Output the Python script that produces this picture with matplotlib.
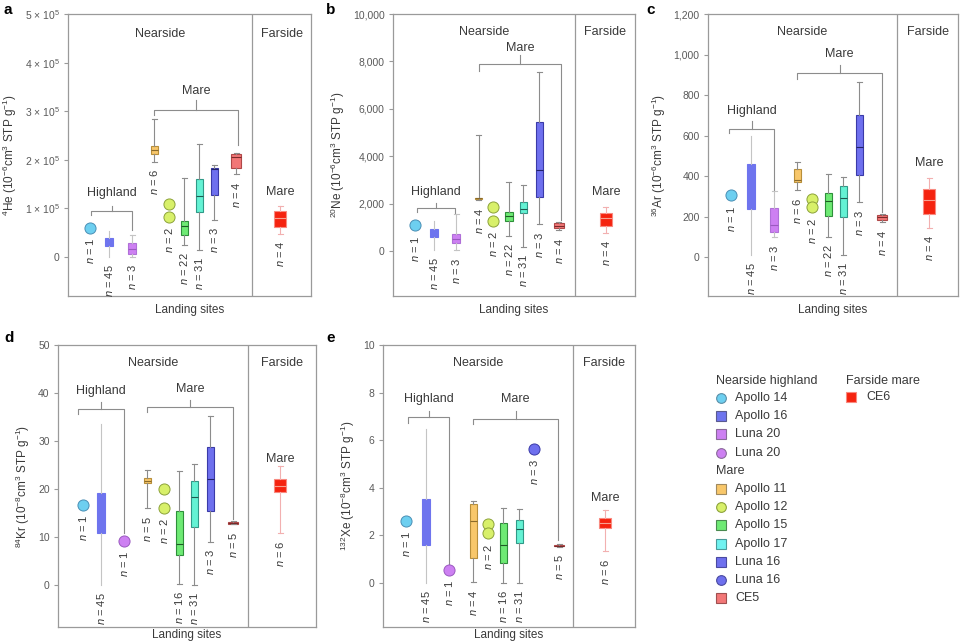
import matplotlib
matplotlib.use('Agg')
import matplotlib.pyplot as plt

plt.rcParams['font.family'] = ['Liberation Sans', 'DejaVu Sans']
plt.rcParams['mathtext.fontset'] = 'custom'
plt.rcParams['mathtext.rm'] = 'Liberation Sans'
plt.rcParams['mathtext.it'] = 'Liberation Sans:italic'
plt.rcParams['mathtext.default'] = 'regular'

# ---- data ----
# boxes: (low whisker, q1, median, q3, high whisker); points: list of values
site_keys = ['A14', 'A16', 'L20', 'A11', 'A12', 'A15', 'A17', 'L16', 'CE5', 'CE6']

he_n = [1, 45, 3, 6, 2, 22, 31, 3, 4, 4]
he_vals = [[60e3], [0, 22e3, 31e3, 40e3, 53e3], [1e3, 7e3, 17e3, 29e3, 45e3],
           [196e3, 212e3, 220e3, 228e3, 285e3], [110e3, 82e3],
           [25e3, 46e3, 63e3, 75e3, 163e3], [14e3, 93e3, 125e3, 161e3, 232e3],
           [77e3, 128e3, 182e3, 183e3, 189e3], [170e3, 183e3, 205e3, 213e3, 215e3],
           [48e3, 62e3, 81e3, 94e3, 106e3]]

ne_n = [1, 45, 3, 4, 2, 22, 31, 3, 4, 4]
ne_vals = [[1080], [40, 580, 750, 920, 1260], [30, 350, 520, 700, 1540],
           [2150, 2190, 2220, 2250, 4890], [1870, 1270],
           [630, 1280, 1480, 1660, 2920], [150, 1590, 1770, 2070, 2780],
           [1140, 2260, 3420, 5460, 7550], [890, 960, 1060, 1170, 1240],
           [770, 1060, 1380, 1620, 1840]]

ar_n = [1, 45, 3, 6, 2, 22, 31, 3, 4, 4]
ar_vals = [[306], [10, 237, 330, 459, 598], [99, 123, 158, 242, 326],
           [331, 370, 380, 435, 469], [286, 247],
           [99, 202, 276, 316, 410], [12, 197, 291, 351, 395],
           [273, 408, 545, 701, 866], [175, 183, 199, 211, 216],
           [147, 216, 281, 336, 393]]

kr_n = [1, 45, 1, 5, 2, 16, 31, 3, 5, 6]
kr_vals = [[16.7], [0, 10.8, 15, 19.1, 33.5], [9.2],
           [16, 21.3, 21.7, 22.2, 24], [20, 16],
           [0.2, 6.25, 8.5, 15.5, 23.75], [0, 12.0, 18.4, 21.7, 25.2],
           [9.0, 15.5, 22, 28.7, 35.3], [12.7, 12.8, 13, 13.2, 13.4],
           [10.8, 19.3, 20.7, 22, 24.7]]

xe_n = [1, 45, 1, 4, 2, 16, 31, 3, 5, 6]
xe_vals = [[2.61], [0, 1.58, 2.5, 3.52, 6.47], [0.56],
           [0.04, 1.05, 2.6, 3.3, 3.45], [2.47, 2.08],
           [0, 0.84, 1.61, 2.5, 3.16], [0, 1.68, 2.26, 2.64, 3.1],
           [5.65], [1.52, 1.55, 1.57, 1.6, 1.62],
           [1.33, 2.31, 2.52, 2.72, 3.08]]

# ---- styles ----
style = {
    'A14': dict(fc='#6DCFF0', ec='#4A8FB5'),
    'A16': dict(fc='#6E74EE', ec='#6E74EE', med='#6E74EE', wc='#C4C4C4', caps=False, w=8),
    'L20': dict(fc='#CD80F2', ec='#B070D8', med='#9A5AC0', wc='#C4C4C4', caps=True, w=8),
    'A11': dict(fc='#F8C76A', ec='#B88F3A', med='#8A6A2A', wc='#8C8C8C', caps=True, w=7),
    'A12': dict(fc='#D8F06A', ec='#8CA23A'),
    'A15': dict(fc='#6EEA74', ec='#2E8F3A', med='#1E5A25', wc='#8C8C8C', caps=True, w=7),
    'A17': dict(fc='#64F2D4', ec='#2F9A88', med='#1E5A50', wc='#8C8C8C', caps=True, w=7),
    'L16': dict(fc='#6E70EE', ec='#3A3AA8', med='#22226A', wc='#8C8C8C', caps=True, w=7),
    'CE5': dict(fc='#F27777', ec='#B04848', med='#7A2A2A', wc='#8C8C8C', caps=True, w=10),
    'CE6': dict(fc='#F5230F', ec='#F88A80', med='#F8A090', wc='#F2B0B0', caps=True, w=12),
}
point_style = {'A14': '#6DCFF0', 'L20': '#CD80F2', 'A12': '#D8F06A', 'L16': '#6E70EE'}
point_edge = {'A14': '#4A8FB5', 'L20': '#9A5AC0', 'A12': '#8CA23A', 'L16': '#3A3AA8'}

grey = '#8C8C8C'
spine_c = '#9A9A9A'
txt_c = '#3A3A3A'

fig = plt.figure(figsize=(9.6, 6.44), dpi=100)


def add_ax(left, right, top, bottom):
    return fig.add_axes([left / 960, 1 - bottom / 644, (right - left) / 960, (bottom - top) / 644])


def draw_panel(ax, ns, vals, pos, width, divider, ylim, yticks, yticklabels, ylabel,
               brackets, near_y, far_mare_y, xpad=6):
    ax.set_xlim(0, width)
    ax.set_ylim(*ylim)
    for k, n, v, x in zip(site_keys, ns, vals, pos):
        if len(v) == 5:
            s = style[k]
            ax.bxp([dict(whislo=v[0], q1=v[1], med=v[2], q3=v[3], whishi=v[4], fliers=[])],
                   positions=[x], widths=s['w'], patch_artist=True, showfliers=False,
                   showcaps=s['caps'], capwidths=5, manage_ticks=False,
                   boxprops=dict(facecolor=s['fc'], edgecolor=s['ec'], linewidth=0.8),
                   medianprops=dict(color=s['med'], linewidth=0.8),
                   whiskerprops=dict(color=s['wc'], linewidth=0.8),
                   capprops=dict(color=s['wc'], linewidth=0.8), zorder=3)
            low, gap = min(v), 5
        else:
            ax.plot([x] * len(v), v, 'o', ms=8, mfc=point_style[k], mec=point_edge[k],
                    mew=0.7, zorder=3, ls='none')
            low, gap = min(v), 7
        ax.annotate(r'$\mathit{n}$ = %d' % n, xy=(x, low), xytext=(0, -gap),
                    textcoords='offset points', rotation=90, ha='center', va='top',
                    fontsize=8, color=txt_c)
    # brackets
    for x0, x1, ybar, yl, yr, ytop, ytext, name in brackets:
        xc = (x0 + x1) / 2
        ax.plot([x0, x0, x1, x1], [yl, ybar, ybar, yr], color=grey, lw=0.8)
        ax.plot([xc, xc], [ybar, ytop], color=grey, lw=0.8)
        ax.text(xc, ytext, name, ha='center', va='center', fontsize=9, color=txt_c)
    ax.axvline(divider, color=spine_c, lw=0.9)
    ax.text(divider / 2, near_y, 'Nearside', ha='center', va='center', fontsize=9, color=txt_c)
    ax.text((divider + width) / 2, near_y, 'Farside', ha='center', va='center', fontsize=9,
            color=txt_c)
    ax.text(pos[-1], far_mare_y, 'Mare', ha='center', va='center', fontsize=9, color=txt_c)

    ax.set_yticks(yticks)
    ax.set_yticklabels(yticklabels)
    ax.set_xticks([])
    ax.tick_params(axis='y', length=3, width=0.8, color=spine_c, labelsize=7.5,
                   labelcolor='#5A5A5A', pad=3)
    for sp in ax.spines.values():
        sp.set_color(spine_c)
        sp.set_linewidth(0.9)
    ax.set_ylabel(ylabel, fontsize=8.5, color=txt_c, labelpad=4)
    ax.set_xlabel('Landing sites', fontsize=8.5, color=txt_c, labelpad=xpad)


unit6 = '(10$^{-6}$cm$^3$ STP g$^{-1}$)'
unit8 = '(10$^{-8}$cm$^3$ STP g$^{-1}$)'

# panel a
ax = add_ax(68, 311, 14, 296)
draw_panel(ax, he_n, he_vals, [22, 41, 64, 86, 101, 116, 131, 146, 168, 212], 243, 184,
           (-0.8e5, 5e5), [0, 1e5, 2e5, 3e5, 4e5, 5e5],
           ['0'] + ['%d × 10$^5$' % i for i in range(1, 6)],
           '$^4$He ' + unit6,
           [(23, 64, 95e3, 86e3, 55e3, 106e3, 132e3, 'Highland'),
            (86, 170, 302e3, 292e3, 230e3, 323e3, 342e3, 'Mare')],
           459e3, 134e3)

# panel b
ax = add_ax(393, 635, 14, 296)
draw_panel(ax, ne_n, ne_vals, [22, 41, 63, 86, 100, 116, 130, 146, 166, 213], 242, 182,
           (-1900, 10000), list(range(0, 10001, 2000)),
           ['0', '2,000', '4,000', '6,000', '8,000', '10,000'],
           '$^{20}$Ne ' + unit6,
           [(24, 62, 1800, 1660, 1590, 2040, 2475, 'Highland'),
            (86, 168, 7876, 7610, 1300, 8270, 8580, 'Mare')],
           9255, 2475)

# panel c
ax = add_ax(708, 958, 14, 296)
draw_panel(ax, ar_n, ar_vals, [23, 43, 66, 89, 104, 120, 135, 151, 174, 221], 250, 189,
           (-190, 1200), list(range(0, 1201, 200)),
           ['0', '200', '400', '600', '800', '1,000', '1,200'],
           '$^{36}$Ar ' + unit6,
           [(21, 66, 632, 611, 334, 673, 722, 'Highland'),
            (89, 174, 910, 879, 222, 951, 1002, 'Mare')],
           1113, 466)

# panel d
ax = add_ax(58, 316, 345, 627)
draw_panel(ax, kr_n, kr_vals, [25, 43, 66, 89, 106, 121, 136, 152, 175, 222], 258, 190,
           (-8.75, 50), list(range(0, 51, 10)), [str(v) for v in range(0, 51, 10)],
           '$^{84}$Kr ' + unit8,
           [(20, 66, 36.6, 35.6, 10.8, 38.2, 40.4, 'Highland'),
            (89, 175, 37.0, 36.1, 13.7, 38.5, 40.8, 'Mare')],
           46.2, 26.2, xpad=1.5)

# panel e
ax = add_ax(383, 635, 345, 627)
draw_panel(ax, xe_n, xe_vals, [23, 43, 66, 90, 105, 120, 136, 151, 176, 222], 252, 190,
           (-1.85, 10), list(range(0, 11, 2)), [str(v) for v in range(0, 11, 2)],
           '$^{132}$Xe ' + unit8,
           [(25, 66, 6.96, 6.73, 0.74, 7.24, 7.73, 'Highland'),
            (90, 175, 6.91, 6.70, 1.80, 7.24, 7.73, 'Mare')],
           9.23, 3.59, xpad=1.5)

# panel letters
for lbl, (x, y) in zip('abcde', [(4, 10), (326, 10), (646, 10), (4, 338), (326, 338)]):
    fig.text(x / 960, 1 - y / 644, lbl, fontsize=11, fontweight='bold', va='center', ha='left')

# ---- legend ----
lax = fig.add_axes([0, 0, 1, 1])
lax.set_xlim(0, 960)
lax.set_ylim(644, 0)
lax.axis('off')

leg_near = [('Apollo 14', 'o', 'A14'), ('Apollo 16', 's', 'A16'), ('Luna 20', 's', 'L20'),
            ('Luna 20', 'o', 'L20')]
leg_mare = [('Apollo 11', 's', 'A11'), ('Apollo 12', 'o', 'A12'), ('Apollo 15', 's', 'A15'),
            ('Apollo 17', 's', 'A17'), ('Luna 16', 's', 'L16'), ('Luna 16', 'o', 'L16'),
            ('CE5', 's', 'CE5')]
edge_leg = {'A14': '#5A8FA8', 'A16': '#5A5A90', 'L20': '#8A6A9A', 'A11': '#A08A60',
            'A12': '#8CA23A', 'A15': '#4A8A50', 'A17': '#4A9A9A', 'L16': '#4A4AA0',
            'CE5': '#A05050', 'CE6': '#F88A80'}
fill_leg = dict((k, v['fc']) for k, v in style.items())
fill_leg['A17'] = '#6FF2F0'

step = 18.2


def leg_row(y, label, marker, key, mx=721, tx=735):
    lax.plot(mx, y, marker, ms=7 if marker == 'o' else 6.5, mfc=fill_leg[key],
             mec=edge_leg[key], mew=0.8)
    lax.text(tx, y, label, va='center', ha='left', fontsize=9, color=txt_c)


lax.text(716, 381, 'Nearside highland', va='center', ha='left', fontsize=9, color=txt_c)
for i, (lab, m, k) in enumerate(leg_near):
    leg_row(398 + step * i, lab, m, k)
lax.text(716, 471, 'Mare', va='center', ha='left', fontsize=9, color=txt_c)
for i, (lab, m, k) in enumerate(leg_mare):
    leg_row(489 + step * i, lab, m, k)
lax.text(846, 381, 'Farside mare', va='center', ha='left', fontsize=9, color=txt_c)
leg_row(397, 'CE6', 's', 'CE6', mx=851, tx=866)

fig.savefig('out.png', dpi=100)
